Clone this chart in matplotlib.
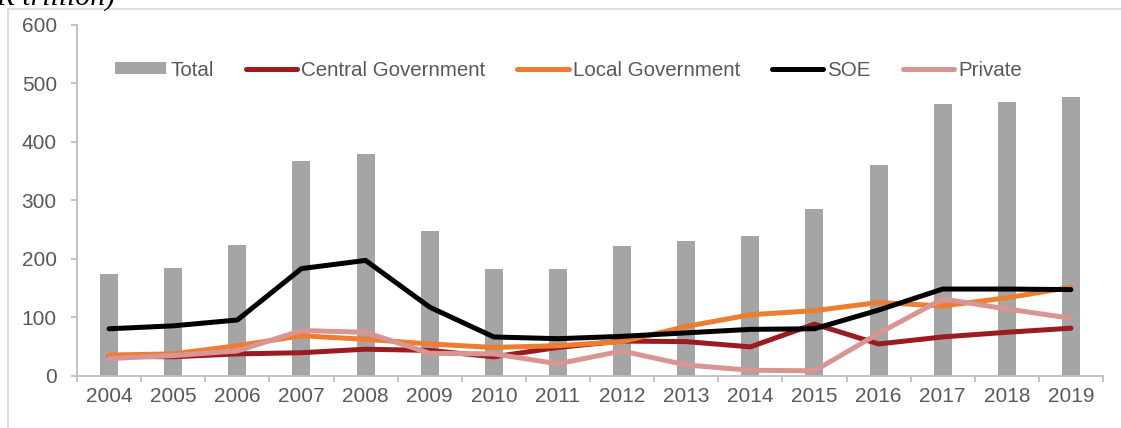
import numpy as np
import matplotlib
matplotlib.use("Agg")
import matplotlib.pyplot as plt
from matplotlib.lines import Line2D
from matplotlib.patches import Patch

plt.rcParams["font.family"] = ["Liberation Sans", "DejaVu Sans"]

# Issuance by issuer type (IDR trillion)
years = ["2004", "2005", "2006", "2007", "2008", "2009", "2010", "2011",
         "2012", "2013", "2014", "2015", "2016", "2017", "2018", "2019"]
total = [173, 184, 224, 368, 380, 248, 183, 183, 222, 230, 239, 285, 361, 465, 468, 476]
central = [33, 32, 37, 39, 45, 43, 32, 48, 59, 58, 49, 88, 54, 66, 74, 81]
local = [35, 37, 51, 68, 62, 54, 48, 51, 58, 84, 104, 111, 125, 119, 133, 151]
soe = [80, 85, 95, 183, 197, 117, 66, 63, 67, 73, 79, 80, 112, 148, 148, 147]
private = [29, 34, 42, 77, 74, 38, 37, 20, 42, 18, 9, 8, 72, 131, 114, 98]

bar_color = "#a5a5a5"
line_colors = {"Central Government": "#9b1b20", "Local Government": "#ed7d31",
               "SOE": "#000000", "Private": "#d99594"}
axis_grey = "#bfbfbf"
text_grey = "#595959"
fs = 15.0

fig = plt.figure(figsize=(11.21, 4.28), dpi=100)
ax = fig.add_axes([77 / 1121, 1 - 375.5 / 428, (1103 - 77) / 1121, (375.5 - 25) / 428])

x = np.arange(len(years))
ax.bar(x, total, width=0.28, color=bar_color, zorder=1)

series = [("Central Government", central), ("Local Government", local),
          ("SOE", soe), ("Private", private)]
for name, vals in series:
    ax.plot(x, vals, color=line_colors[name], lw=3.6, solid_capstyle="round",
            solid_joinstyle="round", zorder=2)

ax.set_xlim(-0.5, len(years) - 0.5)
ax.set_ylim(0, 600)
ax.set_yticks(range(0, 601, 100))
ax.set_xticks(x)
ax.set_xticklabels(years)
ax.set_xticks(np.arange(-0.5, len(years)), minor=True)

for side in ["top", "right"]:
    ax.spines[side].set_visible(False)
for side in ["left", "bottom"]:
    ax.spines[side].set_color(axis_grey)
    ax.spines[side].set_linewidth(1.3)

ax.tick_params(axis="x", which="major", length=0, pad=8, labelsize=fs, labelcolor=text_grey)
ax.tick_params(axis="x", which="minor", length=4.5, width=1.3, color=axis_grey)
ax.tick_params(axis="y", length=4.5, width=1.3, color=axis_grey, pad=10,
               labelsize=fs, labelcolor=text_grey)

handles = [Patch(facecolor=bar_color, edgecolor="none", label="Total")]
for name, _ in series:
    handles.append(Line2D([0], [0], color=line_colors[name], lw=3.6,
                          solid_capstyle="round", label=name))
fig.legend(handles=handles, loc="center left", ncol=5, frameon=False,
           bbox_to_anchor=(115 / 1121, 1 - 70 / 428), borderpad=0, borderaxespad=0,
           handlelength=2.5, handleheight=0.55, handletextpad=0.2, columnspacing=1.55,
           prop={"size": 14.8}, labelcolor=text_grey)

# light outer frame
fig.add_artist(Line2D([8 / 1121, 8 / 1121], [0, 1 - 8.5 / 428], color="#d9d9d9",
                      lw=1.2, transform=fig.transFigure))
fig.add_artist(Line2D([8 / 1121, 1], [1 - 8.5 / 428, 1 - 8.5 / 428], color="#d9d9d9",
                      lw=1.2, transform=fig.transFigure))

fig.text(115 / 1121, 1 - 5 / 428, "(IDR trillion)", ha="right", va="baseline",
         fontsize=21.5, style="italic", family=["Liberation Serif", "DejaVu Serif"],
         color="#000000")

fig.savefig("out.png", dpi=100)
